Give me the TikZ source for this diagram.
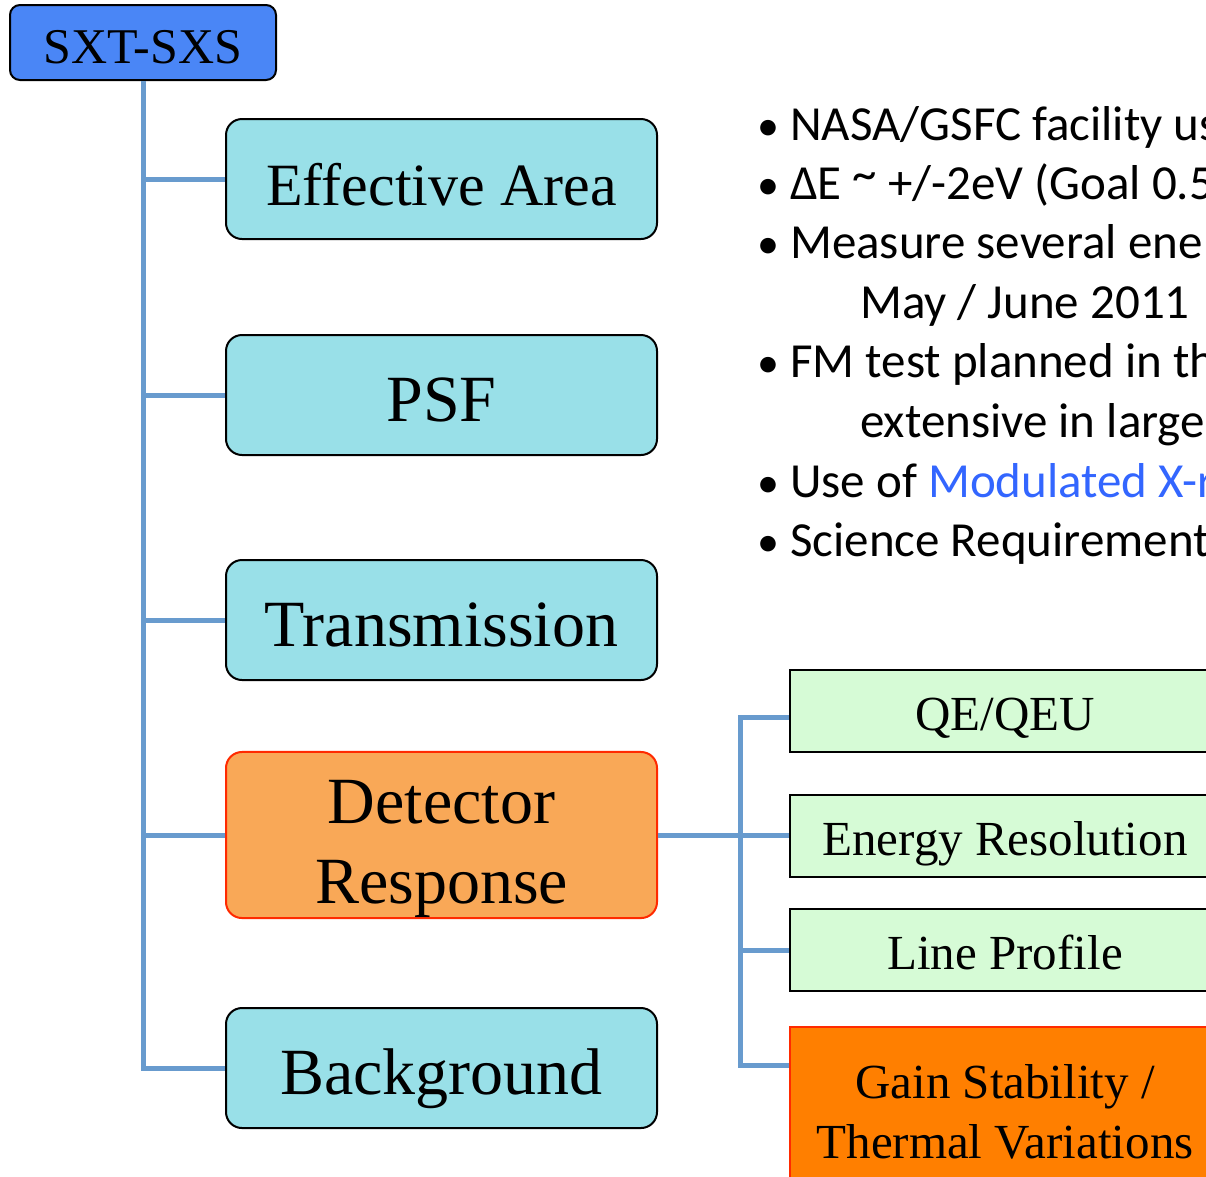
\documentclass[tikz,border=0pt]{standalone}
\usepackage{fontspec}
\setmainfont{Liberation Serif}
\newfontfamily\calib{Carlito}

\definecolor{rootblue}{RGB}{74,134,246}
\definecolor{linkblue}{RGB}{104,155,206}
\definecolor{boxcyan}{RGB}{153,224,232}
\definecolor{detorange}{RGB}{249,168,87}
\definecolor{detred}{RGB}{255,42,0}
\definecolor{subgreen}{RGB}{214,251,214}
\definecolor{gainorange}{RGB}{255,127,0}
\definecolor{modblue}{RGB}{51,102,255}

\begin{document}
\begin{tikzpicture}[x=1pt, y=1pt,
  rootbox/.style={draw=black, line width=2pt, fill=rootblue, rounded corners=10pt,
    minimum width=266pt, minimum height=75pt, inner sep=0pt,
    text height=41pt, text depth=0pt, font=\fontsize{50}{56}\selectfont},
  topicbox/.style={draw=black, line width=2pt, fill=boxcyan, rounded corners=16pt,
    minimum width=431pt, minimum height=120pt, inner sep=0pt, align=center,
    text height=52pt, text depth=0pt, font=\fontsize{66}{80}\selectfont},
  subbox/.style={draw=black, line width=2pt, fill=subgreen,
    minimum width=430pt, minimum height=82pt, inner sep=0pt,
    text height=39pt, text depth=0pt, font=\fontsize{49}{60}\selectfont},
  link/.style={draw=linkblue, line width=5pt},
  bullettext/.style={anchor=base west, inner sep=0pt, font=\calib\fontsize{49}{59}\selectfont},
  bulletdot/.style={anchor=base, inner sep=0pt, font=\calib\fontsize{44}{56}\selectfont}]

  % --- 1. page frame ---
  \useasboundingbox (0,0) rectangle (1206,-1176);
  \clip (0,0) rectangle (1206,-1176);

  % --- 2. tree on the left ---
  \node[rootbox] (root) at (143,-42.5) {SXT-SXS};

  \node[topicbox, font=\fontsize{60}{72}\selectfont] (ea) at (441.5,-179) {Effective Area};
  \node[topicbox] (psf) at (441.5,-395) {PSF};
  \node[topicbox] (tr)  at (441.5,-620) {Transmission};
  \node[topicbox, minimum height=166pt, fill=detorange, draw=detred,
    text height=, text depth=] (det) at (441.5,-835)
    {\rule{0pt}{72pt}Detector\\Response};
  \node[topicbox] (bg)  at (441.5,-1068) {Background};

  % trunk and branches
  \draw[link] (root.south) |- (bg.west);
  \draw[link] (root.south |- ea.west) -- (ea.west);
  \draw[link] (root.south |- psf.west) -- (psf.west);
  \draw[link] (root.south |- tr.west) -- (tr.west);
  \draw[link] (root.south |- det.west) -- (det.west);

  % --- 3. detector response breakdown ---
  \node[subbox] (qe) at (1005,-710.5) {QE/QEU};
  \node[subbox] (er) at (1005,-836) {Energy Resolution};
  \node[subbox] (lp) at (1005,-950) {Line Profile};
  \node[subbox, fill=gainorange, draw=detred, line width=1.5pt, minimum height=170pt,
    text height=, text depth=, align=center] (gain) at (1005,-1112)
    {Gain Stability /\\Thermal Variations};

  \coordinate (fork) at (740,-835);
  \coordinate (qein) at ([yshift=-6.5pt]qe.west);
  \coordinate (gainin) at ([yshift=-39pt]gain.north west);
  \draw[link] (det.east) -- (det.east -| er.west);
  \draw[link] (qein) -| (fork) |- (gainin);
  \draw[link] (fork |- lp.west) -- (lp.west);

  % --- 4. bullet list (cut at the right edge) ---
  \node[bulletdot] (d1) at (768,-140) {\textbullet};
  \node[bullettext] (t1) at (790,-140) {NASA/GSFC facility us};
  \node[bulletdot] (d2) at (768,-199) {\textbullet};
  \node[bullettext] (t2) at (790,-199) {ΔE \raisebox{9pt}{\textasciitilde} +/-2eV (Goal 0.5};
  \node[bulletdot] (d3) at (768,-258) {\textbullet};
  \node[bullettext] (t3) at (790,-258) {Measure several ene};
  \node[bullettext] (t4) at (860,-318) {May / June 2011};
  \node[bulletdot] (d5) at (768,-377) {\textbullet};
  \node[bullettext] (t5) at (790,-377) {FM test planned in th};
  \node[bullettext] (t6) at (860,-437) {extensive in large};
  \node[bulletdot] (d7) at (768,-497) {\textbullet};
  \node[bullettext] (t7) at (790,-497) {Use of \textcolor{modblue}{Modulated X-r}};
  \node[bulletdot] (d8) at (768,-556) {\textbullet};
  \node[bullettext] (t8) at (790,-556) {Science Requirement};

\end{tikzpicture}
\end{document}
